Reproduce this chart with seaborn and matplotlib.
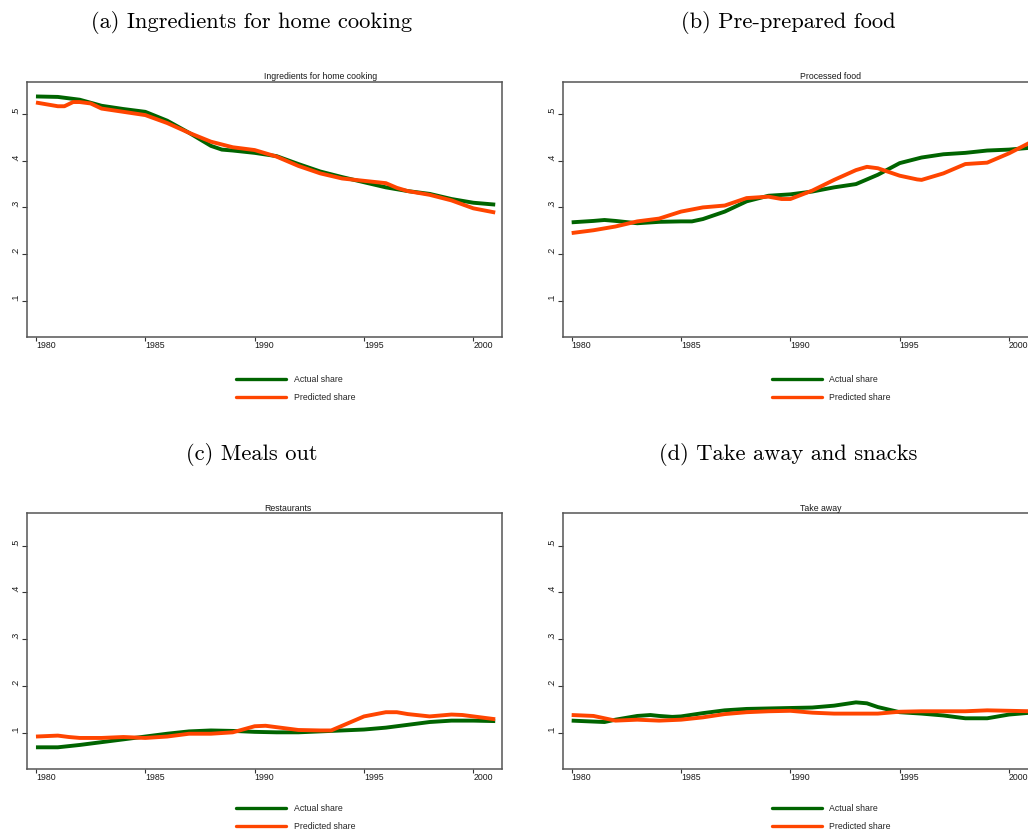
import matplotlib
matplotlib.use("Agg")
import matplotlib.pyplot as plt
from matplotlib.lines import Line2D
import pandas as pd
import seaborn as sns

sns.set_theme(style="white")
plt.rcParams["font.family"] = ["Liberation Sans", "DejaVu Sans"]

# ---- data: budget shares, actual vs. model-predicted ----
home_actual_years = [1980, 1981, 1982, 1983, 1984, 1985, 1986, 1987, 1988, 1988.5, 1989, 1990,
                     1991, 1992, 1993, 1994, 1995, 1996, 1997, 1998, 1999, 2000, 2001]
home_actual = [0.538, 0.537, 0.531, 0.518, 0.511, 0.505, 0.486, 0.460, 0.432, 0.424, 0.422, 0.417,
               0.410, 0.393, 0.377, 0.365, 0.354, 0.343, 0.335, 0.329, 0.318, 0.310, 0.306]
home_pred_years = [1980, 1980.5, 1981, 1981.3, 1981.7, 1982, 1982.5, 1983, 1984, 1985, 1986, 1987,
                   1988, 1989, 1990, 1991, 1992, 1993, 1994, 1995, 1996, 1996.5, 1997, 1998,
                   1999, 2000, 2001]
home_pred = [0.525, 0.521, 0.517, 0.517, 0.526, 0.526, 0.523, 0.512, 0.505, 0.498, 0.481, 0.460,
             0.441, 0.429, 0.423, 0.409, 0.389, 0.373, 0.362, 0.357, 0.352, 0.342, 0.335, 0.327,
             0.315, 0.298, 0.289]

proc_actual_years = [1980, 1981, 1981.5, 1982, 1983, 1984, 1985, 1985.5, 1986, 1987, 1988, 1989,
                     1990, 1991, 1992, 1993, 1994, 1995, 1996, 1997, 1998, 1999, 2000, 2001]
proc_actual = [0.268, 0.271, 0.273, 0.271, 0.266, 0.269, 0.270, 0.270, 0.275, 0.291, 0.313, 0.325,
               0.328, 0.334, 0.343, 0.350, 0.370, 0.395, 0.407, 0.414, 0.417, 0.422, 0.424, 0.428]
proc_pred_years = [1980, 1981, 1982, 1983, 1984, 1985, 1986, 1987, 1988, 1989, 1989.6, 1990,
                   1991, 1992, 1993, 1993.5, 1994, 1995, 1995.8, 1996, 1997, 1998, 1999, 2000, 2001]
proc_pred = [0.245, 0.251, 0.259, 0.270, 0.276, 0.291, 0.300, 0.304, 0.320, 0.323, 0.318, 0.318,
             0.336, 0.359, 0.380, 0.387, 0.384, 0.368, 0.360, 0.359, 0.373, 0.393, 0.396, 0.416,
             0.440]

rest_actual_years = [1980, 1981, 1982, 1983, 1984, 1985, 1986, 1987, 1988, 1989, 1990, 1991,
                     1992, 1993, 1994, 1995, 1996, 1997, 1998, 1999, 2000, 2001]
rest_actual = [0.069, 0.069, 0.074, 0.080, 0.086, 0.092, 0.098, 0.103, 0.105, 0.104, 0.102, 0.101,
               0.101, 0.103, 0.105, 0.107, 0.111, 0.117, 0.123, 0.126, 0.126, 0.125]
rest_pred_years = [1980, 1981, 1981.5, 1982, 1983, 1984, 1985, 1986, 1987, 1988, 1989, 1990,
                   1990.5, 1991, 1992, 1993, 1993.5, 1994, 1995, 1996, 1996.5, 1997, 1998, 1999,
                   1999.5, 2000, 2001]
rest_pred = [0.092, 0.094, 0.091, 0.089, 0.089, 0.091, 0.089, 0.092, 0.098, 0.098, 0.101, 0.114,
             0.115, 0.112, 0.106, 0.105, 0.105, 0.115, 0.135, 0.144, 0.144, 0.140, 0.135, 0.139,
             0.138, 0.135, 0.129]

take_actual_years = [1980, 1981, 1981.5, 1982, 1983, 1983.6, 1984, 1984.6, 1985, 1986, 1987, 1988,
                     1989, 1990, 1991, 1992, 1993, 1993.5, 1994, 1995, 1996, 1997, 1998, 1999,
                     2000, 2001]
take_actual = [0.126, 0.124, 0.123, 0.128, 0.136, 0.138, 0.136, 0.134, 0.135, 0.142, 0.148, 0.151,
               0.152, 0.153, 0.154, 0.158, 0.165, 0.163, 0.155, 0.144, 0.141, 0.137, 0.131, 0.131,
               0.139, 0.143]
take_pred_years = [1980, 1981, 1982, 1983, 1984, 1985, 1986, 1987, 1988, 1989, 1990, 1991, 1992,
                   1993, 1994, 1995, 1996, 1997, 1998, 1999, 2000, 2001]
take_pred = [0.138, 0.136, 0.126, 0.128, 0.126, 0.128, 0.133, 0.140, 0.144, 0.146, 0.147, 0.143,
             0.141, 0.141, 0.141, 0.145, 0.146, 0.146, 0.146, 0.148, 0.147, 0.146]

captions = ["(a) Ingredients for home cooking", "(b) Pre-prepared food",
            "(c) Meals out", "(d) Take away and snacks"]
inner_titles = ["Ingredients for home cooking", "Processed food", "Restaurants", "Take away"]
series_names = ["Actual share", "Predicted share"]
x_ticks = [1980, 1985, 1990, 1995, 2000]
y_ticks = [0.1, 0.2, 0.3, 0.4, 0.5]
y_tick_labels = [".1", ".2", ".3", ".4", ".5"]

panels = [
    (home_actual_years, home_actual, home_pred_years, home_pred),
    (proc_actual_years, proc_actual, proc_pred_years, proc_pred),
    (rest_actual_years, rest_actual, rest_pred_years, rest_pred),
    (take_actual_years, take_actual, take_pred_years, take_pred),
]

GREEN = "#006400"
ORANGE = "#FF4500"
FRAME = "#555555"
palette = {series_names[0]: GREEN, series_names[1]: ORANGE}

W, H = 1028, 833
fig = plt.figure(figsize=(W / 100, H / 100), dpi=100)
fig.patch.set_facecolor("white")

# axes boxes in pixels: (left, top, width, height)
boxes = [(27, 82, 475, 255), (562.7, 82, 475, 255),
         (27, 513.3, 475, 256), (562.7, 513.3, 475, 256)]
# top edge of each legend, in pixels
legend_tops = [375, 375, 804, 804]
caption_pos = [(252, 23), (788, 23), (252, 455), (788, 455)]

SMALL = 6.3

for i, (ya, va, yp, vp) in enumerate(panels):
    left, top, w, h = boxes[i]
    ax = fig.add_axes([left / W, 1 - (top + h) / H, w / W, h / H])
    df = pd.concat([
        pd.DataFrame({"Year": ya, "Share": va, "Series": series_names[0]}),
        pd.DataFrame({"Year": yp, "Share": vp, "Series": series_names[1]}),
    ], ignore_index=True)
    sns.lineplot(data=df, x="Year", y="Share", hue="Series", hue_order=series_names,
                 palette=palette, linewidth=2.8, estimator=None, legend=False, ax=ax,
                 solid_joinstyle="round", solid_capstyle="butt")

    ax.set_xlim(1979.59, 2001.31)
    ax.set_ylim(0.022, 0.569)
    ax.set_xlabel("")
    ax.set_ylabel("")
    ax.set_facecolor("white")
    for sp in ax.spines.values():
        sp.set_color(FRAME)
        sp.set_linewidth(1.1)
        sp.set_visible(True)

    ax.set_xticks(x_ticks)
    ax.set_xticklabels([str(t) for t in x_ticks], ha="left")
    ax.set_yticks(y_ticks)
    ax.set_yticklabels(y_tick_labels, rotation=90, rotation_mode="anchor",
                       ha="left", va="bottom")
    ax.tick_params(axis="x", direction="out", length=3, width=0.8, color="#333333",
                   pad=0, labelsize=SMALL, labelcolor="#1a1a1a", bottom=True)
    ax.tick_params(axis="y", direction="out", length=3.5, width=0.8, color="#333333",
                   pad=1.2, labelsize=SMALL, labelcolor="#1a1a1a", left=True)

    ax.text(0.5, 1.0 + 0.6 / h, inner_titles[i], transform=ax.transAxes,
            ha="left", va="bottom", fontsize=SMALL, color="#1a1a1a")

    handles = [Line2D([], [], color=GREEN, lw=2.4), Line2D([], [], color=ORANGE, lw=2.4)]
    ax.legend(handles, series_names, loc="upper left",
              bbox_to_anchor=((236 - 27) / 475, -(legend_tops[i] - (top + h)) / h),
              frameon=False, fontsize=SMALL, handlelength=5.7, handletextpad=0.9,
              labelspacing=1.0, borderpad=0, borderaxespad=0)

    cx, cy = caption_pos[i]
    fig.text(cx / W, 1 - cy / H, captions[i], family="cmr10", fontsize=16.2,
             ha="center", va="center", color="black")

fig.savefig("out.png", dpi=100, facecolor="white")
